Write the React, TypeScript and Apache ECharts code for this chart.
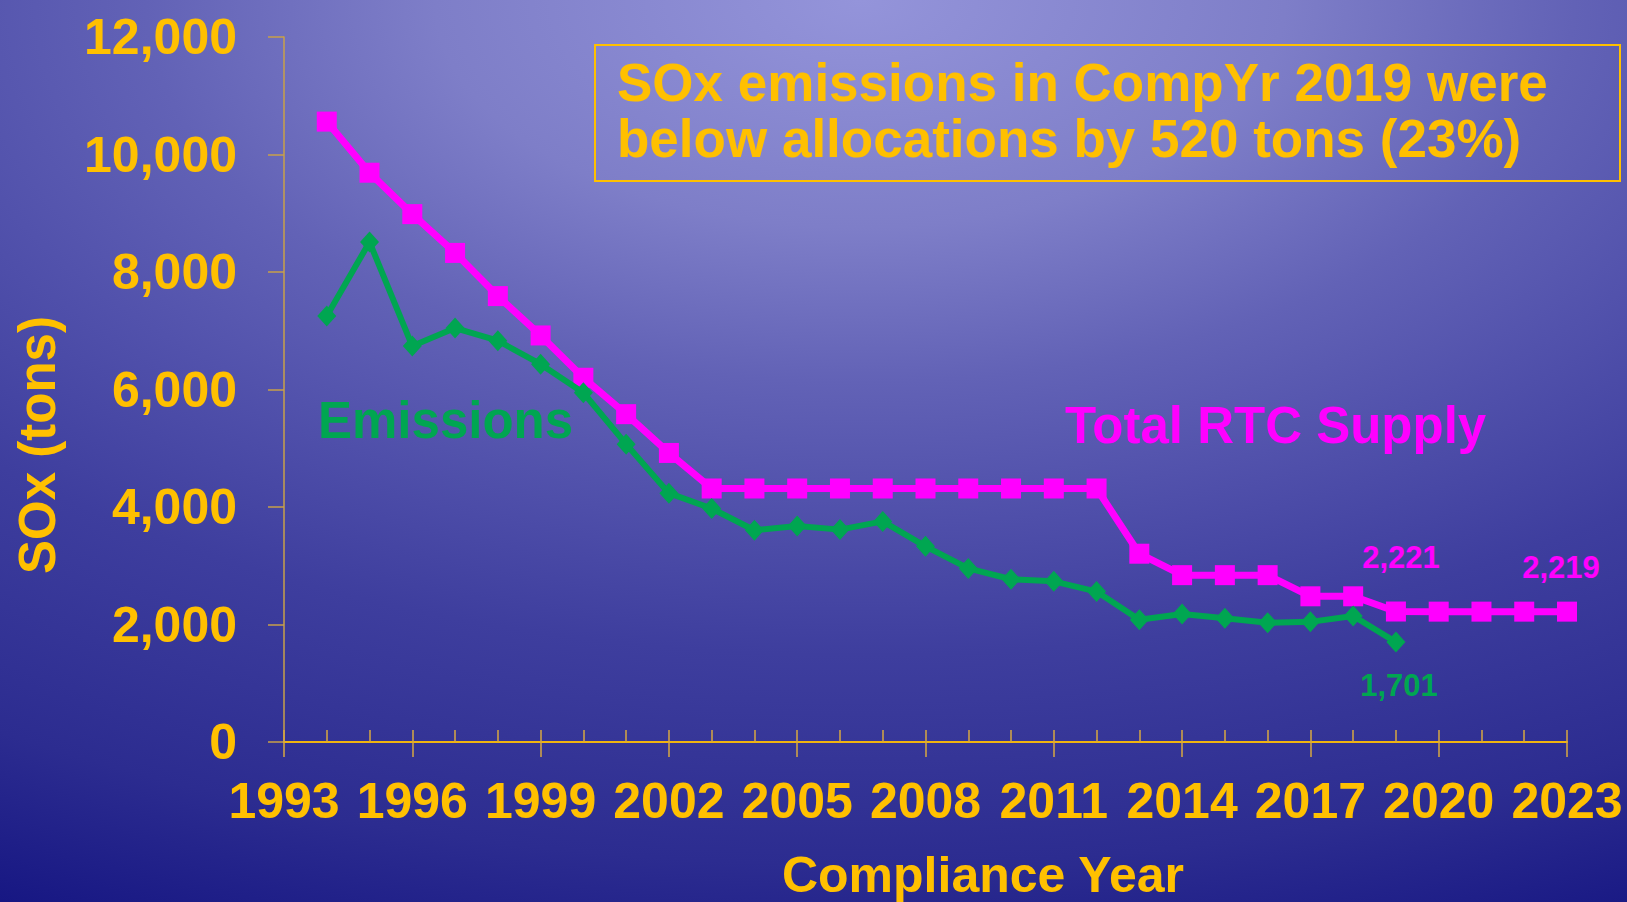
import React, { useEffect, useRef } from 'react';
import * as echarts from 'echarts';

const rtcYears = [1994, 1995, 1996, 1997, 1998, 1999, 2000, 2001, 2002, 2003, 2004, 2005, 2006, 2007, 2008, 2009, 2010, 2011, 2012, 2013, 2014, 2015, 2016, 2017, 2018, 2019, 2020, 2021, 2022, 2023];
const rtcSupply = [10560, 9690, 8985, 8325, 7590, 6920, 6200, 5580, 4920, 4315, 4315, 4315, 4315, 4315, 4315, 4315, 4315, 4315, 4315, 3205, 2840, 2840, 2840, 2480, 2480, 2221, 2219, 2219, 2219, 2219];
const emissionYears = [1994, 1995, 1996, 1997, 1998, 1999, 2000, 2001, 2002, 2003, 2004, 2005, 2006, 2007, 2008, 2009, 2010, 2011, 2012, 2013, 2014, 2015, 2016, 2017, 2018, 2019];
const emissions = [7250, 8510, 6740, 7045, 6830, 6430, 5945, 5070, 4235, 3975, 3605, 3675, 3615, 3755, 3330, 2955, 2770, 2735, 2560, 2080, 2180, 2105, 2030, 2045, 2145, 1701];
const rtcLabelYears = [2019, 2023];
const emissionLabelYears = [2019];
const xMin = 1993;
const xMax = 2023;
const yMax = 12000;
const annotationLines = ['SOx emissions in CompYr 2019 were', 'below allocations by 520 tons (23%)'];

const FONT = '"Liberation Sans", Arial, Helvetica, sans-serif';
const GOLD = '#FFC000';
const MAGENTA = '#FF00FF';
const GREEN = '#00A651';

const fmt = (v: number) => v.toLocaleString('en-US');

export default function App() {
  const ref = useRef<HTMLDivElement>(null);
  useEffect(() => {
    if (!ref.current) return;
    const chart = echarts.init(ref.current, null, { renderer: 'svg' });
    const rtcData = rtcYears.map((y, i) => {
      const item: any = { value: [y, rtcSupply[i]] };
      if (rtcLabelYears.includes(y)) {
        const last = y === 2023;
        item.label = {
          show: true,
          position: 'top',
          distance: last ? 19 : 29,
          offset: [last ? -6 : 5, 0],
          color: MAGENTA,
          fontSize: 31,
          fontWeight: 'bold',
          fontFamily: FONT,
          formatter: (p: any) => fmt(p.value[1]),
        };
      }
      return item;
    });
    const emData = emissionYears.map((y, i) => {
      const item: any = { value: [y, emissions[i]] };
      if (emissionLabelYears.includes(y)) {
        item.label = {
          show: true,
          position: 'bottom',
          distance: 17,
          offset: [3, 0],
          color: GREEN,
          fontSize: 31,
          fontWeight: 'bold',
          fontFamily: FONT,
          formatter: (p: any) => fmt(p.value[1]),
        };
      }
      return item;
    });

    chart.setOption({
      animation: false,
      backgroundColor: 'transparent',
      grid: { left: 284, top: 37, width: 1283, height: 705, containLabel: false },
      xAxis: [
        {
          type: 'value',
          min: xMin,
          max: xMax,
          interval: 3,
          position: 'bottom',
          axisLine: { show: true, lineStyle: { color: '#F0B410', width: 2 } },
          axisTick: { show: true, inside: false, length: 15, lineStyle: { color: '#D8A840', width: 1.5 } },
          axisLabel: {
            color: GOLD,
            fontSize: 50,
            fontWeight: 'bold',
            fontFamily: FONT,
            margin: 34,
            formatter: (v: number) => String(v),
          },
          splitLine: { show: false },
        },
        {
          type: 'value',
          min: xMin,
          max: xMax,
          interval: 1,
          position: 'bottom',
          offset: 0,
          axisLine: { show: false },
          axisTick: { show: true, inside: true, length: 12, lineStyle: { color: '#D8A840', width: 1.5 } },
          axisLabel: { show: false },
          splitLine: { show: false },
        },
      ],
      yAxis: {
        type: 'value',
        min: 0,
        max: yMax,
        interval: 2000,
        axisLine: { show: true, lineStyle: { color: '#C8A048', width: 1.5 } },
        axisTick: { show: true, inside: false, length: 16, lineStyle: { color: '#C8A048', width: 1.5 } },
        axisLabel: {
          color: GOLD,
          fontSize: 50,
          fontWeight: 'bold',
          fontFamily: FONT,
          margin: 47,
          formatter: (v: number) => fmt(v),
        },
        splitLine: { show: false },
      },
      series: [
        {
          name: 'Total RTC Supply',
          type: 'line',
          data: rtcData,
          symbol: 'rect',
          symbolSize: 20,
          lineStyle: { color: MAGENTA, width: 7 },
          itemStyle: { color: MAGENTA },
          z: 2,
        },
        {
          name: 'Emissions',
          type: 'line',
          data: emData,
          symbol: 'diamond',
          symbolSize: [19, 21],
          lineStyle: { color: GREEN, width: 6 },
          itemStyle: { color: GREEN },
          z: 3,
        },
      ],
      graphic: [
        {
          type: 'rect',
          shape: { x: 595, y: 45, width: 1025, height: 136 },
          style: { fill: 'none', stroke: GOLD, lineWidth: 2 },
        },
        {
          type: 'text',
          x: 617,
          y: 82,
          style: { text: annotationLines[0], fill: GOLD, fontSize: 53, fontWeight: 'bold', fontFamily: FONT, align: 'left', verticalAlign: 'middle' },
        },
        {
          type: 'text',
          x: 617,
          y: 138,
          style: { text: annotationLines[1], fill: GOLD, fontSize: 53, fontWeight: 'bold', fontFamily: FONT, align: 'left', verticalAlign: 'middle' },
        },
        {
          type: 'text',
          x: 318,
          y: 420,
          style: { text: 'Emissions', fill: GREEN, fontSize: 51, fontWeight: 'bold', fontFamily: FONT, align: 'left', verticalAlign: 'middle' },
        },
        {
          type: 'text',
          x: 1065,
          y: 425,
          style: { text: 'Total RTC Supply', fill: MAGENTA, fontSize: 51, fontWeight: 'bold', fontFamily: FONT, align: 'left', verticalAlign: 'middle' },
        },
        {
          type: 'text',
          x: 37,
          y: 445,
          rotation: Math.PI / 2,
          style: { text: 'SOx (tons)', fill: GOLD, fontSize: 51, fontWeight: 'bold', fontFamily: FONT, align: 'center', verticalAlign: 'middle' },
        },
        {
          type: 'text',
          x: 983,
          y: 875,
          style: { text: 'Compliance Year', fill: GOLD, fontSize: 50, fontWeight: 'bold', fontFamily: FONT, align: 'center', verticalAlign: 'middle' },
        },
      ],
    });
    return () => chart.dispose();
  }, []);

  return (
    <div
      style={{
        position: 'absolute',
        left: 0,
        top: 0,
        width: 1627,
        height: 902,
        background:
          'radial-gradient(1700px 910px at 860px 0px, #9494DA 0%, #7E7EC8 25%, #6262B6 42%, #5252AC 55%, #3E3E9E 72%, #2C2C90 95%, #121280 115%)',
      }}
    >
      <div ref={ref} style={{ width: 1627, height: 902 }} />
    </div>
  );
}
